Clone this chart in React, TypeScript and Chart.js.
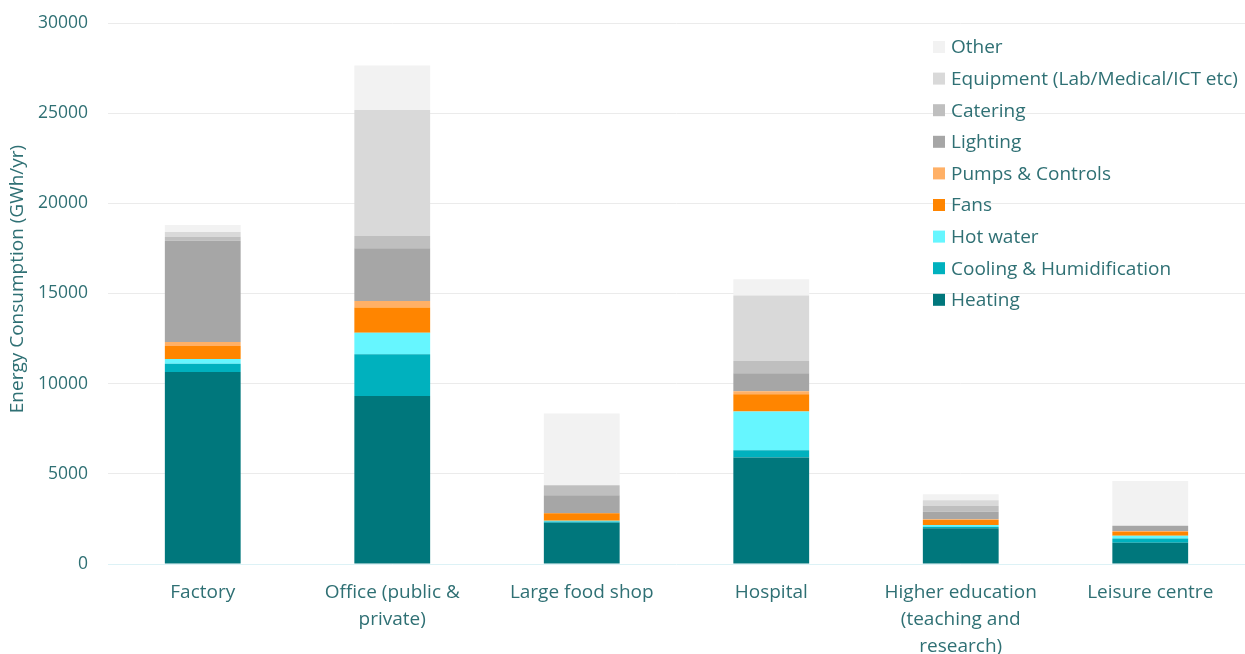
import React, { useEffect, useRef } from "react";
import { Chart, registerables } from "chart.js";

Chart.register(...registerables);

const categories: (string | string[])[] = [
  "Factory",
  ["Office (public &", "private)"],
  "Large food shop",
  "Hospital",
  ["Higher education", "(teaching and", "research)"],
  "Leisure centre",
];

const heating = [10650, 9320, 2290, 5900, 1980, 1180];
const cooling = [460, 2310, 60, 410, 90, 240];
const hotWater = [260, 1200, 50, 2145, 90, 150];
const fans = [720, 1390, 410, 960, 290, 200];
const pumps = [220, 370, 0, 165, 30, 60];
const lighting = [5620, 2920, 1000, 1000, 420, 290];
const catering = [220, 680, 550, 680, 310, 0];
const equipment = [260, 6990, 0, 3625, 330, 0];
const other = [390, 2460, 3990, 905, 330, 2480];

const seriesNames = [
  "Heating",
  "Cooling & Humidification",
  "Hot water",
  "Fans",
  "Pumps & Controls",
  "Lighting",
  "Catering",
  "Equipment (Lab/Medical/ICT etc)",
  "Other",
];
const seriesValues = [heating, cooling, hotWater, fans, pumps, lighting, catering, equipment, other];
const seriesColors = [
  "#00777C",
  "#00B1BE",
  "#66F6FF",
  "#FF8500",
  "#FFB066",
  "#A6A6A6",
  "#BFBFBF",
  "#D9D9D9",
  "#F2F2F2",
];

const yTicks = [0, 5000, 10000, 15000, 20000, 25000, 30000];
const yTitle = "Energy Consumption (GWh/yr)";

const TEXT = "#2F7074";
const FONT = "'Open Sans', sans-serif";
const FS = 17.5;
const LFS = 19;

const legendPlugin = {
  id: "insideLegend",
  afterDraw(chart: any) {
    const ctx = chart.ctx;
    ctx.save();
    ctx.font = `${LFS}px ${FONT}`;
    ctx.textBaseline = "middle";
    ctx.textAlign = "left";
    const x0 = 933;
    const y0 = 47;
    const step = 31.6;
    for (let i = 0; i < seriesNames.length; i++) {
      const idx = seriesNames.length - 1 - i;
      const y = y0 + i * step;
      ctx.fillStyle = seriesColors[idx];
      ctx.fillRect(x0, y - 6, 12, 12);
      ctx.fillStyle = TEXT;
      ctx.fillText(seriesNames[idx], x0 + 18, y + 1);
    }
    // y-axis title
    ctx.translate(18, 279);
    ctx.rotate(-Math.PI / 2);
    ctx.textAlign = "center";
    ctx.font = `${FS + 1.5}px ${FONT}`;
    ctx.fillText(yTitle, 0, 0);
    ctx.restore();
  },
};

export default function App() {
  const ref = useRef<HTMLCanvasElement | null>(null);

  useEffect(() => {
    if (!ref.current) return;
    const chart = new Chart(ref.current, {
      type: "bar",
      data: {
        labels: categories,
        datasets: seriesNames.map((name, i) => ({
          label: name,
          data: seriesValues[i],
          backgroundColor: seriesColors[i],
          borderWidth: 0,
          categoryPercentage: 1,
          barPercentage: 0.4,
        })),
      },
      options: {
        animation: false,
        responsive: false,
        maintainAspectRatio: false,
        layout: { padding: { top: 23, right: 0, left: 0, bottom: 0 } },
        plugins: {
          legend: { display: false },
          tooltip: { enabled: false },
        },
        scales: {
          x: {
            stacked: true,
            grid: { display: false, drawTicks: false },
            border: { display: false },
            ticks: {
              color: TEXT,
              font: { family: FONT, size: LFS, lineHeight: 1.43 },
              padding: 15,
              maxRotation: 0,
              autoSkip: false,
            },
            afterFit: (scale: any) => {
              scale.height = 90;
              scale.paddingLeft = 0;
              scale.paddingRight = 0;
            },
          },
          y: {
            stacked: true,
            min: 0,
            max: 30000,
            afterBuildTicks: (scale: any) => {
              scale.ticks = yTicks.map((v) => ({ value: v }));
            },
            grid: {
              drawTicks: false,
              color: (c: any) => (c.tick && c.tick.value === 0 ? "#DDF2F6" : "#EBEBEB"),
              lineWidth: 1,
            },
            border: { display: false },
            ticks: {
              color: TEXT,
              font: { family: FONT, size: FS },
              padding: 20,
              callback: (v: any) => String(v),
            },
            title: { display: false },
            afterFit: (scale: any) => {
              scale.width = 108;
              scale.paddingTop = 0;
              scale.paddingBottom = 0;
            },
          },
        },
      },
      plugins: [legendPlugin],
    });
    return () => chart.destroy();
  }, []);

  return (
    <div style={{ position: "fixed", left: 0, top: 0, width: 1245, height: 654, background: "#fff" }}>
      <canvas ref={ref} width={1245} height={654} style={{ width: 1245, height: 654, display: "block" }} />
    </div>
  );
}
